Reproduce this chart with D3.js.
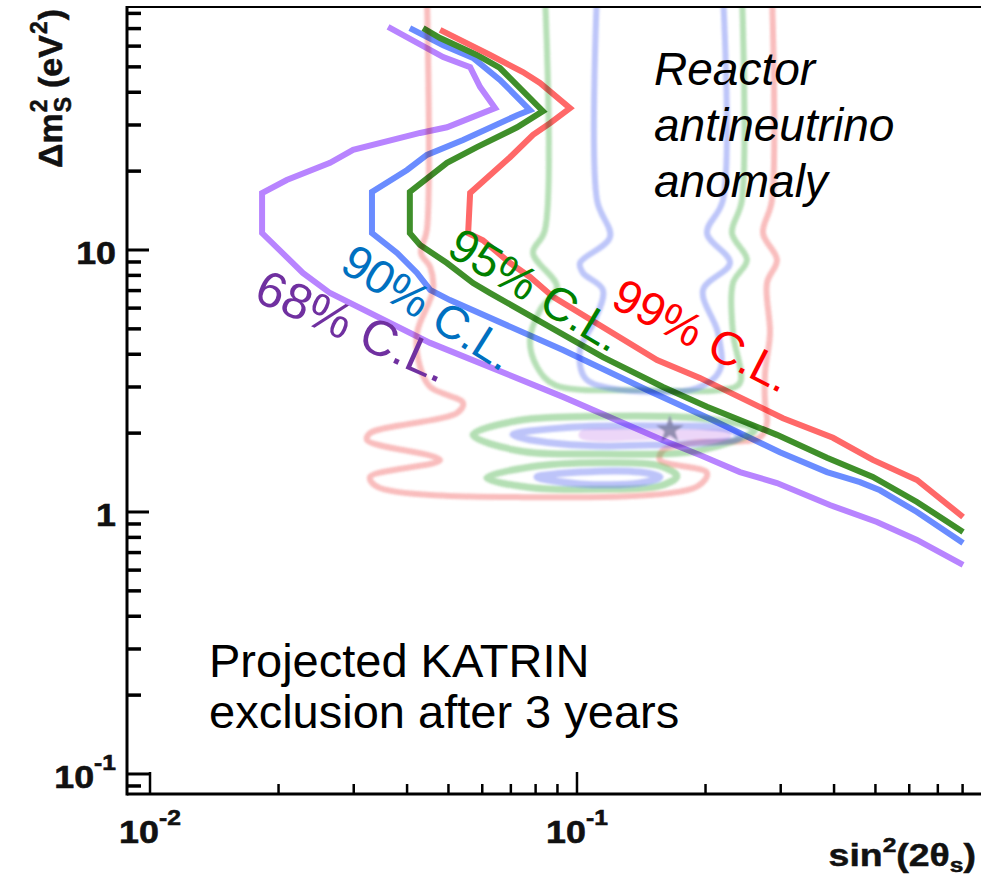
<!DOCTYPE html>
<html>
<head>
<meta charset="utf-8">
<script src="https://cdn.jsdelivr.net/npm/d3@7"></script>
<style>
  body { margin: 0; background: #fff; }
  svg { display: block; }
  text { font-family: "Liberation Sans", Arial, Helvetica, sans-serif; }
</style>
</head>
<body>
<svg id="chart" width="981" height="878"></svg>
<script>
// ---------- data: projected KATRIN exclusion curves [sin^2(2θ), Δm^2 (eV^2)] ----------
const cl68 = [[0.0361,71.0],[0.0486,54.5],[0.0562,49.9],[0.0593,41.9],[0.0643,34.8],
  [0.0496,29.4],[0.0429,27.97],[0.0299,24.1],[0.0264,21.5],[0.0209,18.5],[0.0183,16.5],
  [0.0183,11.6],[0.0209,9.40],[0.0228,8.17],[0.0264,6.85],[0.0453,4.42],[0.0927,2.75],
  [0.159,1.88],[0.194,1.65],[0.2408,1.42],[0.294,1.29],[0.391,1.063],[0.504,0.916],
  [0.6255,0.782],[0.802,0.628]];
const cl90 = [[0.0406,70.3],[0.0486,60.5],[0.0571,54.1],[0.066,44.6],[0.0697,40.8],[0.0776,34.2],
  [0.0724,32.7],[0.0541,26.3],[0.0445,23.05],[0.0400,20.2],[0.0331,16.65],[0.0331,11.6],
  [0.0379,9.74],[0.0422,8.17],[0.0453,7.04],[0.0504,6.44],[0.0927,4.15],[0.1459,2.92],
  [0.2083,2.24],[0.2987,1.69],[0.385,1.42],[0.460,1.30],[0.5126,1.21],[0.6255,1.0],[0.802,0.761]];
const cl95 = [[0.0436,70.3],[0.0478,64.4],[0.0583,55.5],[0.066,49.5],[0.0697,45.3],[0.0832,33.9],
  [0.0724,29.4],[0.0583,24.7],[0.0496,21.5],[0.0406,16.65],[0.0406,11.6],[0.0429,10.45],
  [0.0496,8.92],[0.0571,7.48],[0.0626,6.85],[0.115,3.90],[0.159,3.0],[0.2016,2.52],
  [0.294,1.97],[0.385,1.61],[0.493,1.36],[0.6255,1.092],[0.802,0.839]];
const cl99 = [[0.0478,69.2],[0.0626,55.5],[0.0747,47.8],[0.0819,43.4],[0.0963,34.8],
  [0.0865,30.5],[0.0789,27.5],[0.0697,22.6],[0.0562,16.5],[0.0556,11.6],[0.0602,10.9],
  [0.0697,8.92],[0.0776,7.89],[0.0879,6.62],[0.154,3.80],[0.194,3.25],[0.3037,2.28],
  [0.3977,1.92],[0.493,1.58],[0.6255,1.325],[0.802,0.957]];

// ---------- data: reactor antineutrino anomaly contours (pale underlay) ----------
const rea99 = [[0.0445,95],[0.0445,11.9],[0.0431,9.74],[0.0453,8.61],[0.0460,7.04],[0.0422,4.82],
  [0.0429,3.58],[0.0453,3.0],[0.0541,2.61],[0.0524,2.39],[0.03275,2.0],[0.03224,1.88],
  [0.0478,1.58],[0.03275,1.36],[0.0340,1.25],[0.0724,1.14],[0.191,1.25],[0.2016,1.41],
  [0.1564,1.58],[0.159,1.72],[0.1839,1.83],[0.2684,1.93],[0.2786,2.2],[0.2757,2.6],
  [0.2757,3.39],[0.2831,4.82],[0.2786,7.48],[0.294,9.16],[0.2727,11.6],[0.2862,15.5],[0.2862,95]];
const rea95 = [[0.0841,95],[0.0841,11.9],[0.0789,9.74],[0.0898,7.22],[0.0819,5.90],[0.0776,4.53],
  [0.0806,3.58],[0.0888,3.05],[0.148,2.92],[0.2162,2.92],[0.2408,3.11],[0.2319,4.82],
  [0.2319,7.48],[0.25,9.16],[0.2307,11.6],[0.2434,15.5],[0.2434,95]];
const rea90 = [[0.1114,95],[0.1114,15.5],[0.1195,11.2],[0.1016,8.92],[0.1033,8.17],[0.115,7.04],
  [0.1102,5.41],[0.1016,4.15],[0.1044,3.25],[0.1195,2.97],[0.191,2.97],[0.2162,3.48],
  [0.2139,4.82],[0.1973,7.04],[0.2282,8.92],[0.2016,11.6],[0.2197,15.5],[0.2197,95]];
const rea95IslandA = [[0.0571,1.97],[0.0735,2.24],[0.1132,2.32],[0.194,2.28],[0.2611,2.06],
  [0.194,1.72],[0.1132,1.665],[0.0735,1.71]];
const rea95IslandB = [[0.0615,1.35],[0.0776,1.485],[0.1132,1.54],[0.1564,1.50],[0.1714,1.37],
  [0.1564,1.257],[0.1132,1.22],[0.0776,1.24]];
const rea90IslandA = [[0.0708,1.97],[0.0912,2.09],[0.148,2.13],[0.2282,2.06],[0.2408,1.93],
  [0.148,1.80],[0.0912,1.82]];
const rea90IslandB = [[0.0806,1.36],[0.1016,1.42],[0.1404,1.42],[0.1564,1.36],[0.1404,1.29],[0.1016,1.28]];
const rea68Core = [[0.1016,2.03],[0.16,2.06],[0.2282,2.02],[0.2282,1.91],[0.16,1.89],[0.1016,1.91]];
const bestFit = [0.165, 2.06];

// ---------- axis ticks and labels ----------
const xMajor = [0.01, 0.1];
const xMajorLabels = [["10","-2"],["10","-1"]];
const xMinor = [0.02,0.03,0.04,0.05,0.06,0.07,0.08,0.09,0.2,0.3,0.4,0.5,0.6,0.7,0.8];
const yMajor = [0.1, 1, 10];
const yMajorLabels = [["10","-1"],["1",""],["10",""]];
const yMinor = [0.09,0.2,0.3,0.4,0.5,0.6,0.7,0.8,0.9,2,3,4,5,6,7,8,9,20,30,40,50,60,70,80];

const curveLabels = [
  {text:"68% C.L.", color:"#7030a0"},
  {text:"90% C.L.", color:"#0070c0"},
  {text:"95% C.L.", color:"#008000"},
  {text:"99% C.L.", color:"#ff0000"}
];

// ---------- scales ----------
const svg = d3.select("#chart");
const L = 127, R = 981, T = 7, B = 794;
const x = d3.scaleLog().domain([0.008833, 0.8835]).range([L, R]);
const y = d3.scaleLog().domain([0.08387, 84.62]).range([B, T]);

svg.append("rect").attr("width", 981).attr("height", 878).attr("fill", "#fff");
const defs = svg.append("defs");
defs.append("clipPath").attr("id", "plot")
  .append("rect").attr("x", L).attr("y", T).attr("width", R - L).attr("height", B - T);
defs.append("filter").attr("id", "soft").attr("x", "-5%").attr("y", "-5%").attr("width", "110%").attr("height", "110%")
  .append("feGaussianBlur").attr("stdDeviation", 1.1);

const line = d3.line().x(d => x(d[0])).y(d => y(d[1]));
const smooth = d3.line().x(d => x(d[0])).y(d => y(d[1])).curve(d3.curveCatmullRom.alpha(0.5));
const smoothClosed = d3.line().x(d => x(d[0])).y(d => y(d[1])).curve(d3.curveCatmullRomClosed.alpha(0.5));

const plot = svg.append("g").attr("clip-path", "url(#plot)");

// ---------- KATRIN sensitivity curves ----------
const curves = [
  {data: cl68, color: "#b884ff"},
  {data: cl90, color: "#6a8cff"},
  {data: cl95, color: "#3f8f2a"},
  {data: cl99, color: "#ff6868"}
];
plot.append("g").selectAll("path").data(curves).join("path")
  .attr("d", d => line(d.data))
  .attr("fill", "none").attr("stroke", d => d.color)
  .attr("stroke-width", 6).attr("stroke-linejoin", "miter");

// ---------- reactor anomaly contours, blended over the curves ----------
const pale = plot.append("g").style("mix-blend-mode", "multiply").attr("filter", "url(#soft)");
pale.append("path").attr("d", smoothClosed(rea68Core))
  .attr("fill", "#e6c8f5").attr("fill-opacity", 0.75).attr("stroke", "none");
const paleOpen = [
  {data: rea99, color: "#f05050"},
  {data: rea95, color: "#3caa3c"},
  {data: rea90, color: "#5064f0"}
];
pale.selectAll("path.band").data(paleOpen).join("path").attr("class", "band")
  .attr("d", d => smooth(d.data))
  .attr("fill", "none").attr("stroke", d => d.color)
  .attr("stroke-opacity", 0.37).attr("stroke-width", 6);
const paleIslands = [
  {data: rea95IslandA, color: "#3caa3c"},
  {data: rea95IslandB, color: "#3caa3c"},
  {data: rea90IslandA, color: "#5064f0"},
  {data: rea90IslandB, color: "#5064f0"}
];
pale.selectAll("path.island").data(paleIslands).join("path").attr("class", "island")
  .attr("d", d => smoothClosed(d.data))
  .attr("fill", "none").attr("stroke", d => d.color)
  .attr("stroke-opacity", 0.38).attr("stroke-width", 7);
pale.append("path")
  .attr("d", d3.symbol(d3.symbolStar, 240)())
  .attr("transform", `translate(${x(bestFit[0])},${y(bestFit[1])})`)
  .attr("fill", "#77779a").attr("fill-opacity", 0.75);

// ---------- frame and ticks ----------
const ax = svg.append("g").attr("stroke", "#000");
ax.append("line").attr("x1", L).attr("x2", L).attr("y1", T - 1).attr("y2", B + 1.5).attr("stroke-width", 3);
ax.append("line").attr("x1", L).attr("x2", R).attr("y1", B).attr("y2", B).attr("stroke-width", 3);
ax.append("line").attr("x1", L).attr("x2", R).attr("y1", T).attr("y2", T).attr("stroke-width", 2);

ax.selectAll("line.ymin").data(yMinor).join("line").attr("class", "ymin")
  .attr("x1", L).attr("x2", L + 14).attr("y1", d => y(d)).attr("y2", d => y(d)).attr("stroke-width", 3.5);
ax.selectAll("line.ymaj").data(yMajor).join("line").attr("class", "ymaj")
  .attr("x1", L).attr("x2", L + 22).attr("y1", d => y(d)).attr("y2", d => y(d)).attr("stroke-width", 3);
ax.selectAll("line.xmin").data(xMinor).join("line").attr("class", "xmin")
  .attr("x1", d => x(d)).attr("x2", d => x(d)).attr("y1", B).attr("y2", B - 10).attr("stroke-width", 2.5);
ax.selectAll("line.xmaj").data(xMajor).join("line").attr("class", "xmaj")
  .attr("x1", d => x(d)).attr("x2", d => x(d)).attr("y1", B).attr("y2", B - 22).attr("stroke-width", 2.5);

// tick labels (bold, slightly widened)
function powerLabel(parent, px, py, anchor, base, exp) {
  const g = parent.append("g").attr("transform", `translate(${px},${py}) scale(1.12,1)`);
  const t = g.append("text").attr("text-anchor", anchor).attr("font-weight", "bold")
    .attr("font-size", 32).attr("fill", "#111").attr("stroke", "#111").attr("stroke-width", 0.6);
  t.append("tspan").text(base);
  if (exp) t.append("tspan").attr("font-size", 22).attr("dy", -18).text(exp);
}
yMajor.forEach((v, i) => powerLabel(svg, 116, y(v) + 14, "end", yMajorLabels[i][0], yMajorLabels[i][1]));
xMajor.forEach((v, i) => powerLabel(svg, x(v), 843, "middle", xMajorLabels[i][0], xMajorLabels[i][1]));

// x axis title
{
  const g = svg.append("g").attr("transform", "translate(976,866) scale(1.17,1)");
  const t = g.append("text").attr("text-anchor", "end").attr("font-weight", "bold")
    .attr("font-size", 32).attr("fill", "#111").attr("stroke", "#111").attr("stroke-width", 0.5);
  t.append("tspan").text("sin");
  t.append("tspan").attr("font-size", 21).attr("dy", -14).text("2");
  t.append("tspan").attr("dy", 14).text("(2θ");
  t.append("tspan").attr("font-size", 21).attr("dy", 6).text("s");
  t.append("tspan").attr("dy", -6).text(")");
}

// y axis title
{
  const g = svg.append("g").attr("transform", "translate(62,168) rotate(-90)");
  const st = s => s.attr("font-weight", "bold").attr("fill", "#111").attr("stroke", "#111").attr("stroke-width", 0.5);
  const t1 = st(g.append("text").attr("font-size", 34)).text("Δm");
  const w1 = t1.node().getComputedTextLength();
  const sup = st(g.append("text").attr("font-size", 23).attr("x", w1 + 1).attr("y", -15)).text("2");
  const sub = st(g.append("text").attr("font-size", 23).attr("x", w1 + 1).attr("y", 9)).text("S");
  const w2 = Math.max(sup.node().getComputedTextLength(), sub.node().getComputedTextLength());
  const t3 = st(g.append("text").attr("font-size", 34).attr("x", w1 + w2 + 10)).text("(eV");
  const w3 = t3.node().getComputedTextLength();
  const s2 = st(g.append("text").attr("font-size", 23).attr("x", w1 + w2 + 10 + w3 + 1).attr("y", -15)).text("2");
  const w4 = s2.node().getComputedTextLength();
  st(g.append("text").attr("font-size", 34).attr("x", w1 + w2 + 10 + w3 + w4 + 2)).text(")");
}

// ---------- annotations ----------
const labelPos = [
  {px: 252, py: 300, angle: 24, size: 50},
  {px: 338, py: 270, angle: 32, size: 47},
  {px: 445, py: 254, angle: 31, size: 47},
  {px: 609, py: 306, angle: 27, size: 47}
];
svg.append("g").selectAll("text").data(curveLabels).join("text")
  .attr("transform", (d, i) => `translate(${labelPos[i].px},${labelPos[i].py}) rotate(${labelPos[i].angle})`)
  .attr("font-size", (d, i) => labelPos[i].size).attr("fill", d => d.color).text(d => d.text);

const anomaly = svg.append("text").attr("font-size", 46).attr("font-style", "italic").attr("fill", "#000");
["Reactor", "antineutrino", "anomaly"].forEach((s, i) =>
  anomaly.append("tspan").attr("x", 654).attr("y", 85 + i * 56).text(s));

const proj = svg.append("text").attr("font-size", 47).attr("fill", "#000");
["Projected KATRIN", "exclusion after 3 years"].forEach((s, i) =>
  proj.append("tspan").attr("x", 209).attr("y", 677 + i * 51).text(s));
</script>
</body>
</html>
